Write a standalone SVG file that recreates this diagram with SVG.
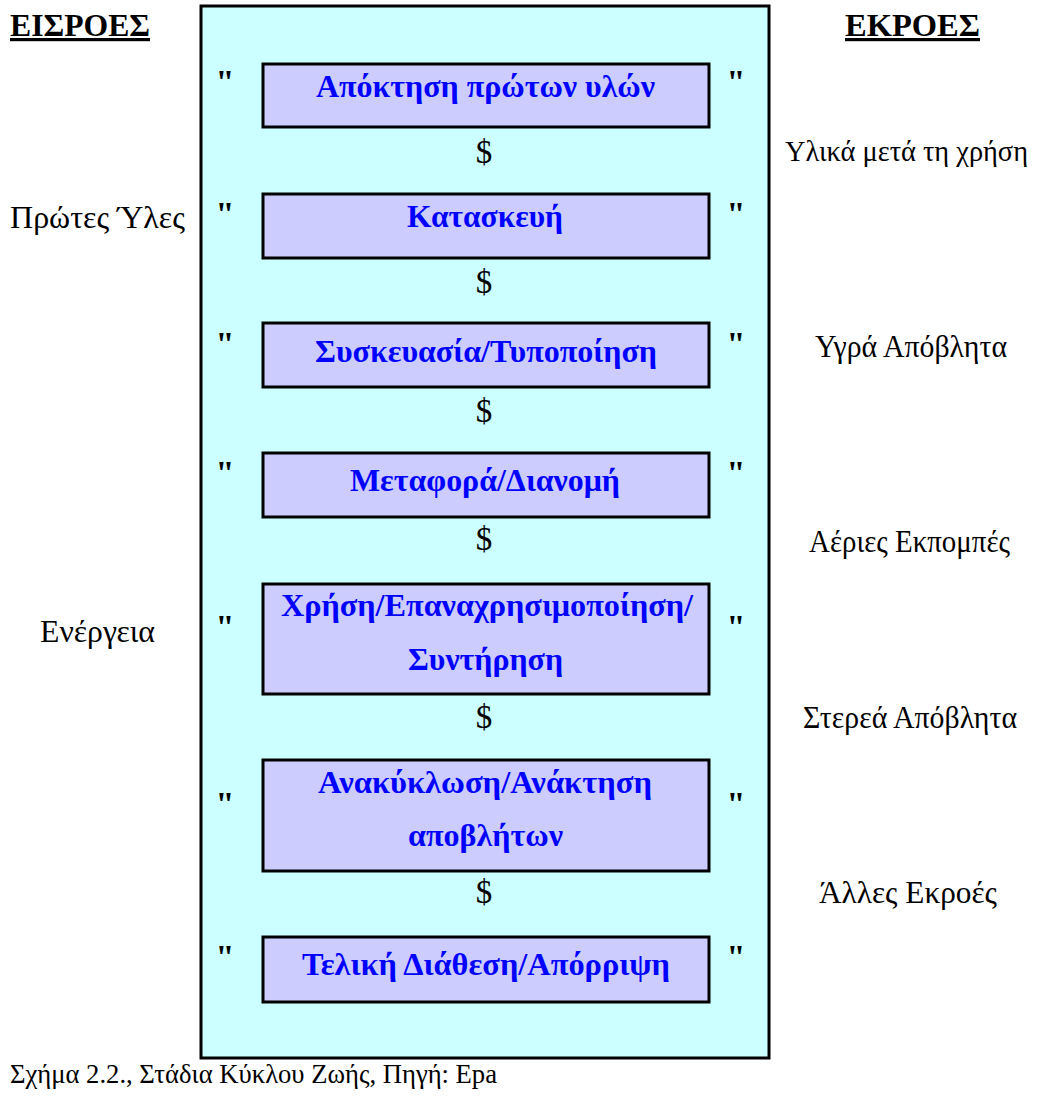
<svg xmlns="http://www.w3.org/2000/svg" width="1044" height="1100" viewBox="0 0 1044 1100">
<style>
.hdr{font-family:"Liberation Serif",serif;font-weight:bold;font-size:32px;fill:#000;text-decoration:underline}
.lbl{font-family:"Liberation Serif",serif;font-size:31px;fill:#000}
.lbs{font-family:"Liberation Serif",serif;font-size:30px;fill:#000}
.cap{font-family:"Liberation Serif",serif;font-size:27px;fill:#000}
.box{fill:#CCCCFF;stroke:#000;stroke-width:3}
.bt{font-family:"Liberation Serif",serif;font-weight:bold;font-size:31px;fill:#0000FF}
.q{font-family:"Liberation Serif",serif;font-weight:bold;font-size:34px;fill:#000;text-anchor:middle}
.d{font-family:"Liberation Serif",serif;font-size:33px;fill:#000;text-anchor:middle}
</style>
<rect x="0" y="0" width="1044" height="1100" fill="#fff"/>
<g id="frame"><rect x="201" y="6" width="568" height="1052" fill="#CCFFFF" stroke="#000" stroke-width="3"/></g>
<g id="headers">
<text class="hdr" x="10" y="36" textLength="140" lengthAdjust="spacingAndGlyphs">ΕΙΣΡΟΕΣ</text>
<text class="hdr" x="845" y="36" textLength="135" lengthAdjust="spacingAndGlyphs">ΕΚΡΟΕΣ</text>
</g>
<g id="inputs">
<text class="lbl" x="10" y="228" textLength="175" lengthAdjust="spacingAndGlyphs">Πρώτες Ύλες</text>
<text class="lbl" x="40" y="642" textLength="115" lengthAdjust="spacingAndGlyphs">Ενέργεια</text>
</g>
<g id="outputs">
<text class="lbs" x="785" y="161" textLength="243" lengthAdjust="spacingAndGlyphs">Υλικά μετά τη χρήση</text>
<text class="lbl" x="815" y="357" textLength="192" lengthAdjust="spacingAndGlyphs">Υγρά Απόβλητα</text>
<text class="lbl" x="809" y="552" textLength="201" lengthAdjust="spacingAndGlyphs">Αέριες Εκπομπές</text>
<text class="lbl" x="803" y="728" textLength="214" lengthAdjust="spacingAndGlyphs">Στερεά Απόβλητα</text>
<text class="lbl" x="819" y="903" textLength="178" lengthAdjust="spacingAndGlyphs">Άλλες Εκροές</text>
</g>
<g id="n1"><rect class="box" x="263" y="64" width="446" height="63"/><text class="bt" x="316" y="97" textLength="339" lengthAdjust="spacingAndGlyphs">Απόκτηση πρώτων υλών</text></g>
<g id="n2"><rect class="box" x="263" y="194" width="446" height="64"/><text class="bt" x="407" y="227" textLength="156" lengthAdjust="spacingAndGlyphs">Κατασκευή</text></g>
<g id="n3"><rect class="box" x="263" y="323" width="446" height="64"/><text class="bt" x="315" y="362" textLength="342" lengthAdjust="spacingAndGlyphs">Συσκευασία/Τυποποίηση</text></g>
<g id="n4"><rect class="box" x="263" y="453" width="446" height="64"/><text class="bt" x="350" y="491" textLength="270" lengthAdjust="spacingAndGlyphs">Μεταφορά/Διανομή</text></g>
<g id="n5"><rect class="box" x="263" y="584" width="446" height="110"/><text class="bt" x="281" y="616" textLength="412" lengthAdjust="spacingAndGlyphs">Χρήση/Επαναχρησιμοποίηση/</text><text class="bt" x="408" y="670" textLength="155" lengthAdjust="spacingAndGlyphs">Συντήρηση</text></g>
<g id="n6"><rect class="box" x="263" y="760" width="446" height="111"/><text class="bt" x="318" y="793" textLength="334" lengthAdjust="spacingAndGlyphs">Ανακύκλωση/Ανάκτηση</text><text class="bt" x="408" y="846" textLength="155" lengthAdjust="spacingAndGlyphs">αποβλήτων</text></g>
<g id="n7"><rect class="box" x="263" y="937" width="446" height="65"/><text class="bt" x="302" y="975" textLength="368" lengthAdjust="spacingAndGlyphs">Τελική Διάθεση/Απόρριψη</text></g>
<g id="connectors">
<text class="d" x="484" y="163">$</text>
<text class="d" x="484" y="293">$</text>
<text class="d" x="484" y="422">$</text>
<text class="d" x="484" y="550">$</text>
<text class="d" x="484" y="728">$</text>
<text class="d" x="484" y="903">$</text>
</g>
<g id="quotes">
<text class="q" x="225" y="93">"</text><text class="q" x="736" y="93">"</text>
<text class="q" x="225" y="225">"</text><text class="q" x="736" y="225">"</text>
<text class="q" x="225" y="355">"</text><text class="q" x="736" y="355">"</text>
<text class="q" x="225" y="484">"</text><text class="q" x="736" y="484">"</text>
<text class="q" x="225" y="638">"</text><text class="q" x="736" y="638">"</text>
<text class="q" x="225" y="815">"</text><text class="q" x="736" y="815">"</text>
<text class="q" x="225" y="968">"</text><text class="q" x="736" y="968">"</text>
</g>
<g id="caption"><text class="cap" x="10" y="1083" textLength="487" lengthAdjust="spacingAndGlyphs">Σχήμα 2.2., Στάδια Κύκλου Ζωής, Πηγή: Epa</text></g>
</svg>
